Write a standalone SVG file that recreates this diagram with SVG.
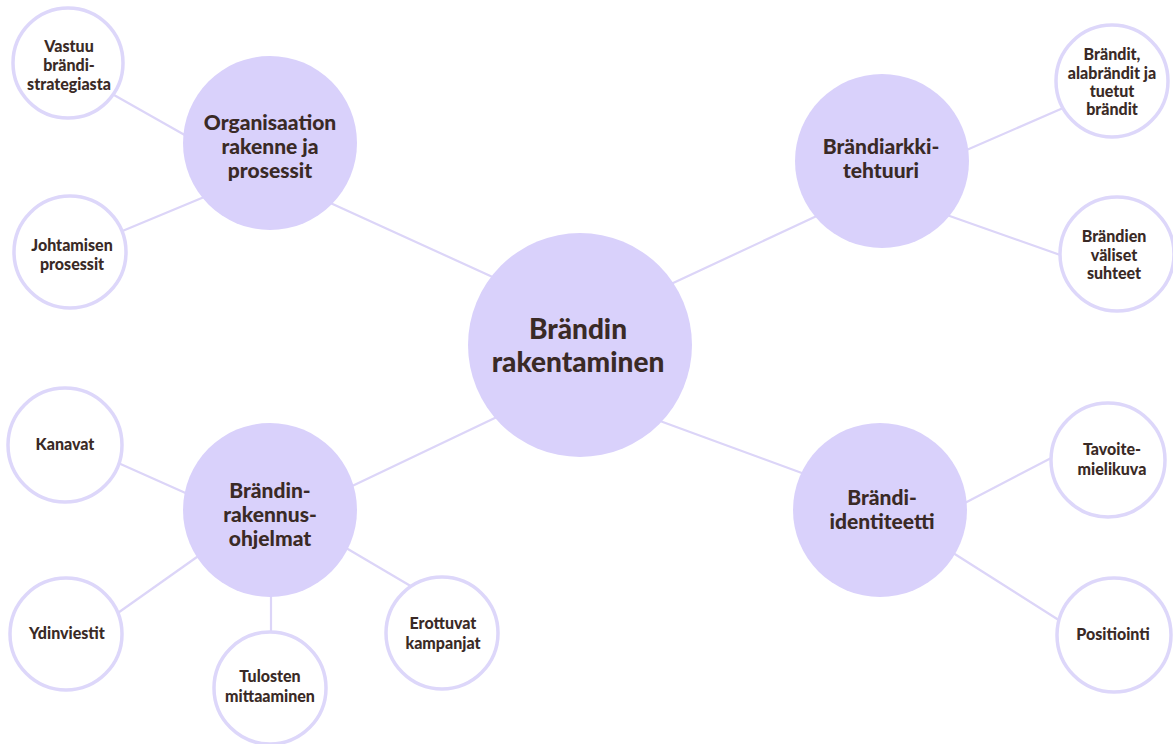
<svg xmlns="http://www.w3.org/2000/svg" width="1173" height="744" viewBox="0 0 1173 744">
<style>
.bg{fill:#ffffff}
.edge{stroke:#dcd5f8;stroke-width:2.2;fill:none;stroke-linecap:round}
.big{fill:#d9d1fb}
.small{fill:#ffffff;stroke:#ddd7fa;stroke-width:3.5}
text{font-family:"Lato","Liberation Sans",sans-serif;font-weight:900;fill:#3a2a26;text-anchor:middle;dominant-baseline:central}
.t1{font-size:28px}
.t2{font-size:21px}
.t3{font-size:16px}
</style>
<rect class="bg" x="0" y="0" width="1173" height="744"/>
<g id="connectors">
<line class="edge" x1="326" y1="201" x2="497" y2="279"/>
<line class="edge" x1="671" y1="284" x2="821" y2="214"/>
<line class="edge" x1="499" y1="416" x2="348" y2="488"/>
<line class="edge" x1="660" y1="421" x2="810" y2="476"/>
<line class="edge" x1="962" y1="152" x2="1070" y2="105"/>
<line class="edge" x1="944" y1="214" x2="1066" y2="257"/>
<line class="edge" x1="961" y1="505" x2="1057" y2="455"/>
<line class="edge" x1="950" y1="551" x2="1065" y2="624"/>
<line class="edge" x1="114" y1="95" x2="190" y2="138"/>
<line class="edge" x1="120" y1="232" x2="209" y2="195"/>
<line class="edge" x1="116" y1="462" x2="190" y2="495"/>
<line class="edge" x1="115" y1="615" x2="204" y2="552"/>
<line class="edge" x1="271" y1="590" x2="271" y2="637"/>
<line class="edge" x1="341" y1="545" x2="414" y2="588"/>
</g>
<g id="center">
<circle class="big" cx="580" cy="345" r="112"/>
<text class="t1" x="578" y="328">Brändin</text>
<text class="t1" x="578" y="361">rakentaminen</text>
</g>
<g id="organisaatio">
<circle class="big" cx="270" cy="143" r="87"/>
<text class="t2" x="270" y="121">Organisaation</text>
<text class="t2" x="270" y="145">rakenne ja</text>
<text class="t2" x="270" y="169">prosessit</text>
</g>
<g id="arkkitehtuuri">
<circle class="big" cx="882" cy="161" r="87"/>
<text class="t2" x="881" y="145">Brändiarkki-</text>
<text class="t2" x="881" y="169">tehtuuri</text>
</g>
<g id="rakennusohjelmat">
<circle class="big" cx="270" cy="510" r="87"/>
<text class="t2" x="270" y="489">Brändin-</text>
<text class="t2" x="270" y="513">rakennus-</text>
<text class="t2" x="270" y="537">ohjelmat</text>
</g>
<g id="identiteetti">
<circle class="big" cx="880" cy="510" r="87"/>
<text class="t2" x="882" y="496">Brändi-</text>
<text class="t2" x="882" y="520">identiteetti</text>
</g>
<g id="vastuu">
<circle class="small" cx="68" cy="63" r="55"/>
<text class="t3" x="69" y="45">Vastuu</text>
<text class="t3" x="69" y="64">brändi-</text>
<text class="t3" x="69" y="83">strategiasta</text>
</g>
<g id="johtamisen">
<circle class="small" cx="70" cy="252" r="56"/>
<text class="t3" x="72" y="244">Johtamisen</text>
<text class="t3" x="72" y="263">prosessit</text>
</g>
<g id="brandit">
<circle class="small" cx="1112" cy="81" r="56"/>
<text class="t3" x="1112" y="53">Brändit,</text>
<text class="t3" x="1112" y="72">alabrändit ja</text>
<text class="t3" x="1112" y="90">tuetut</text>
<text class="t3" x="1112" y="108">brändit</text>
</g>
<g id="brandien">
<circle class="small" cx="1117" cy="254" r="57"/>
<text class="t3" x="1114" y="235">Brändien</text>
<text class="t3" x="1114" y="254">väliset</text>
<text class="t3" x="1114" y="272">suhteet</text>
</g>
<g id="kanavat">
<circle class="small" cx="65" cy="445" r="57"/>
<text class="t3" x="65" y="443">Kanavat</text>
</g>
<g id="ydinviestit">
<circle class="small" cx="66" cy="634" r="56"/>
<text class="t3" x="67" y="632">Ydinviestit</text>
</g>
<g id="tulosten">
<circle class="small" cx="270" cy="688" r="56"/>
<text class="t3" x="270" y="675">Tulosten</text>
<text class="t3" x="270" y="695">mittaaminen</text>
</g>
<g id="erottuvat">
<circle class="small" cx="442" cy="633" r="56"/>
<text class="t3" x="443" y="622">Erottuvat</text>
<text class="t3" x="443" y="642">kampanjat</text>
</g>
<g id="tavoite">
<circle class="small" cx="1108" cy="460" r="57"/>
<text class="t3" x="1112" y="448">Tavoite-</text>
<text class="t3" x="1112" y="468">mielikuva</text>
</g>
<g id="positiointi">
<circle class="small" cx="1114" cy="635" r="57"/>
<text class="t3" x="1113" y="633">Positiointi</text>
</g>
</svg>
